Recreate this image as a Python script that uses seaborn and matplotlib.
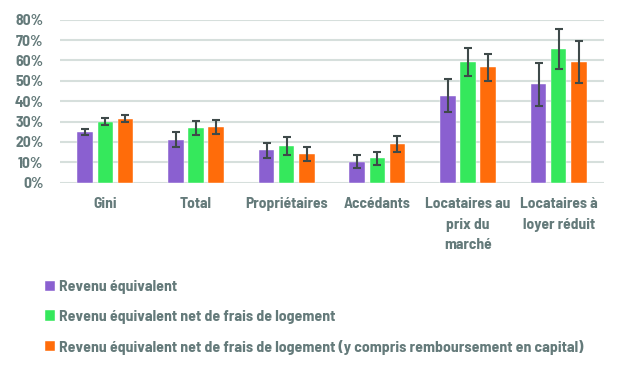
import matplotlib
matplotlib.use("Agg")
import matplotlib.pyplot as plt
import seaborn as sns
import pandas as pd
import numpy as np

categories = ["Gini", "Total", "Propriétaires", "Accédants",
              "Locataires au\nprix du\nmarché", "Locataires à\nloyer réduit"]
series = ["Revenu équivalent",
          "Revenu équivalent net de frais de logement",
          "Revenu équivalent net de frais de logement (y compris remboursement en capital)"]
rev_eq = [24.9, 21.1, 15.9, 10.2, 42.7, 48.3]
rev_net = [29.9, 26.8, 18.0, 12.1, 59.2, 65.5]
rev_net_cap = [31.3, 27.3, 14.1, 19.0, 56.6, 59.2]
err_eq = [1.4, 3.6, 3.8, 3.2, 8.0, 10.5]
err_net = [1.7, 3.5, 4.3, 3.2, 6.9, 9.9]
err_net_cap = [1.7, 3.6, 3.6, 3.8, 6.7, 10.5]

colors = ["#8a60d0", "#35e85c", "#ff6c0a"]
text_color = "#647a7a"
grid_color = "#d6dfdc"
FS = 11.2
LFS = 11.4
W = 700

sns.set_theme(style="white")
plt.rcParams["font.family"] = ["Barlow Semi Condensed", "DejaVu Sans"]
plt.rcParams["font.weight"] = W

df = pd.DataFrame({
    "cat": categories * 3,
    "serie": [series[0]] * 6 + [series[1]] * 6 + [series[2]] * 6,
    "val": rev_eq + rev_net + rev_net_cap,
})

fig = plt.figure(figsize=(6.22, 3.78), dpi=100)
ax = fig.add_axes([60 / 622, 1 - 182.7 / 378, 544 / 622, 163 / 378])

sns.barplot(data=df, x="cat", y="val", hue="serie", palette=colors, saturation=1,
            width=0.663, gap=0.22, errorbar=None, ax=ax, legend=True,
            edgecolor="#ffffff", linewidth=0.3, zorder=3)

bars = [p for p in ax.patches if p.get_height() > 0][:18]
vals_all = rev_eq + rev_net + rev_net_cap
errs_all = err_eq + err_net + err_net_cap
for p, v, e in zip(bars, vals_all, errs_all):
    cx = p.get_x() + p.get_width() / 2
    ax.errorbar(cx, v, yerr=e, fmt="none", ecolor="#3f4a4a", elinewidth=1.5,
                capsize=3, capthick=1.5, zorder=4)

ax.set_ylim(0, 80)
ax.set_xlim(-0.5, 5.5)
ax.set_yticks(np.arange(0, 81, 10))
ax.set_yticklabels([f"{t}%" for t in range(0, 81, 10)])
ax.yaxis.grid(True, color=grid_color, linewidth=1.5, zorder=0)
ax.set_axisbelow(True)
for s in ["top", "right", "left", "bottom"]:
    ax.spines[s].set_visible(False)
ax.tick_params(axis="both", length=0, labelsize=FS, labelcolor=text_color)
ax.tick_params(axis="y", pad=12)
ax.tick_params(axis="x", pad=10)
for lab in ax.get_xticklabels():
    lab.set_linespacing(1.63)
    lab.set_fontweight(W)
for lab in ax.get_yticklabels():
    lab.set_fontweight(W)
ax.set_xlabel("")
ax.set_ylabel("")

handles, labels = ax.get_legend_handles_labels()
ax.get_legend().remove()
leg = fig.legend(handles, labels, loc="upper left",
                 bbox_to_anchor=(31 / 622, 1 - 266 / 378), frameon=False,
                 handlelength=0.6, handleheight=0.6, handletextpad=0.25,
                 labelspacing=1.0, fontsize=LFS)
for t in leg.get_texts():
    t.set_color(text_color)
    t.set_fontweight(W)

fig.savefig("out.png", dpi=100)
